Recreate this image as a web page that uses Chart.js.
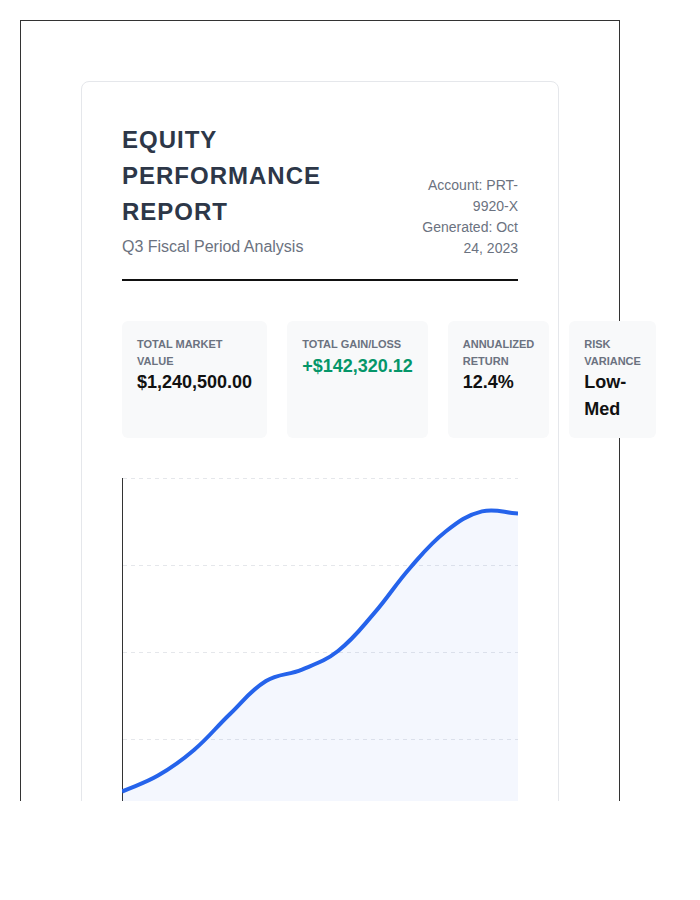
<!DOCTYPE html>
<html>
<head>
<meta charset="utf-8">
<script src="https://cdn.jsdelivr.net/npm/chart.js@4.4.0/dist/chart.umd.min.js"></script>
<style>
  html, body { margin: 0; padding: 0; background: #fff; }
  body { width: 700px; height: 900px; position: relative; font-family: "Liberation Sans", Arial, sans-serif; }
  .clip { position: absolute; left: 0; top: 0; width: 700px; height: 801px; overflow: hidden; }
  .frame { position: absolute; left: 20px; top: 20px; width: 600px; min-height: 900px; box-sizing: border-box; border: 1px solid #333; padding: 60px; }
  .card { border: 1px solid #e5e7eb; border-radius: 8px; padding: 40px; min-height: 900px; background: #fff; }
  .header { display: flex; justify-content: space-between; align-items: flex-end; padding-bottom: 20px; border-bottom: 2px solid #111; }
  .title { margin: 0; font-size: 24px; line-height: 36px; font-weight: 700; letter-spacing: 1px; color: #2d3748; text-transform: uppercase; width: 240px; }
  .subtitle { margin-top: 5px; font-size: 16px; line-height: 24px; color: #6b7280; }
  .meta { max-width: 110px; text-align: right; font-size: 14px; line-height: 21px; color: #6b7280; }
  .kpis { display: flex; gap: 20px; margin-top: 40px; }
  .kpi { flex: 1; background: #f8f9fa; border-radius: 6px; padding: 15px; }
  .kpi .label { font-size: 11px; line-height: 16.5px; font-weight: 700; color: #6b7280; text-transform: uppercase; }
  .kpi .value { font-size: 18px; line-height: 27px; font-weight: 700; color: #111; }
  .kpi .value.pos { color: #059669; }
  .chart-wrap { position: relative; margin-top: 40px; height: 348px; }
</style>
</head>
<body>
<div class="clip">
  <div class="frame">
    <div class="card">
      <div class="header">
        <div>
          <h1 class="title">Equity Performance Report</h1>
          <div class="subtitle">Q3 Fiscal Period Analysis</div>
        </div>
        <div class="meta">Account: PRT-9920-X Generated: Oct 24, 2023</div>
      </div>
      <div class="kpis">
        <div class="kpi"><div class="label">Total Market Value</div><div class="value">$1,240,500.00</div></div>
        <div class="kpi"><div class="label">Total Gain/Loss</div><div class="value pos">+$142,320.12</div></div>
        <div class="kpi"><div class="label">Annualized Return</div><div class="value">12.4%</div></div>
        <div class="kpi"><div class="label">Risk Variance</div><div class="value">Low-Med</div></div>
      </div>
      <div class="chart-wrap"><canvas id="chart"></canvas></div>
    </div>
  </div>
</div>
<script>
const months = ['Jan', 'Feb', 'Mar', 'Apr', 'May', 'Jun', 'Jul', 'Aug', 'Sep', 'Oct', 'Nov', 'Dec'];
const portfolioValues = [1119800, 1129000, 1143700, 1164400, 1183300, 1189900, 1200600, 1222200, 1248300, 1269400, 1280800, 1279600];
const yMin = 1100000;
const yMax = 1300000;
const yStep = 50000;

new Chart(document.getElementById('chart'), {
  type: 'line',
  data: {
    labels: months,
    datasets: [{
      label: 'Portfolio Value',
      data: portfolioValues,
      borderColor: '#2563eb',
      borderWidth: 4,
      backgroundColor: 'rgba(37,99,235,0.05)',
      fill: true,
      tension: 0.4,
      pointRadius: 0,
      pointHoverRadius: 0
    }]
  },
  options: {
    responsive: true,
    maintainAspectRatio: false,
    animation: false,
    layout: { padding: 0 },
    plugins: { legend: { display: false }, tooltip: { enabled: false } },
    scales: {
      x: { display: false },
      y: {
        min: yMin,
        max: yMax,
        ticks: { display: false, stepSize: yStep },
        grid: { color: '#e5e7eb', drawTicks: false },
        border: { display: true, color: '#333', width: 1, dash: [4, 4] }
      }
    }
  }
});
</script>
</body>
</html>
